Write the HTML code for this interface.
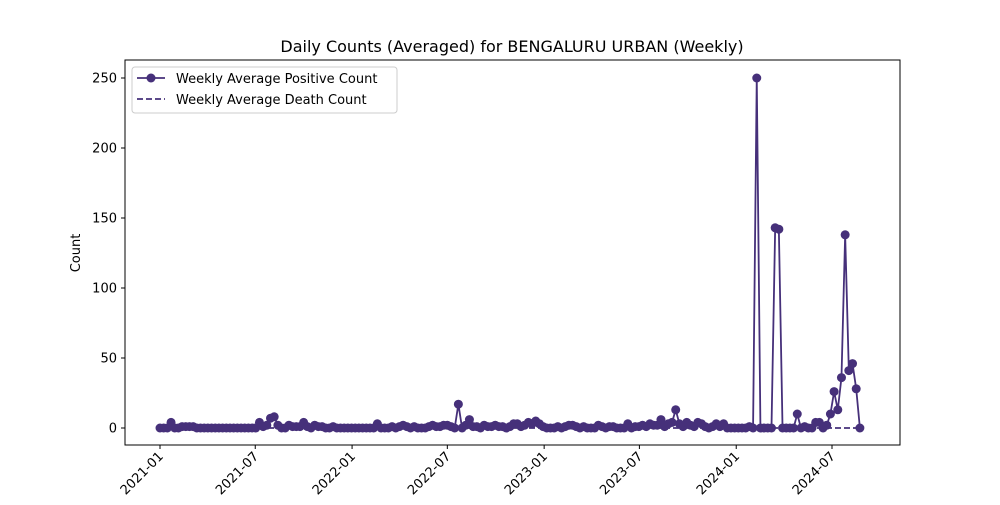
<!DOCTYPE html>
<html><head><meta charset="utf-8"><style>
body{margin:0;background:#fff;font-family:"Liberation Sans","DejaVu Sans",sans-serif;}
svg text{font-family:"DejaVu Sans","Liberation Sans",sans-serif;}
</style></head><body>
<svg id="chart" width="1000" height="500" xmlns="http://www.w3.org/2000/svg">
<rect width="1000" height="500" fill="#fff"/>
<text x="512" y="52" font-size="16" text-anchor="middle">Daily Counts (Averaged) for BENGALURU URBAN (Weekly)</text>
<text transform="translate(80,253) rotate(-90)" font-size="13" text-anchor="middle">Count</text>
<g id="axes"></g>
<g id="series"></g>
<rect x="125" y="60" width="775" height="385" fill="none" stroke="#000" stroke-width="1"/>
<g>
<rect x="132" y="67" width="265" height="46" rx="3" fill="#fff" stroke="#ccc"/>
<g>
<line x1="137" y1="78" x2="165" y2="78" stroke="#46307a" stroke-width="1.8"/>
<circle cx="151" cy="78" r="4.5" fill="#46307a"/>
<text x="176" y="83" font-size="13">Weekly Average Positive Count</text></g>
<g>
<line x1="137" y1="99" x2="165" y2="99" stroke="#46307a" stroke-width="1.8" stroke-dasharray="6,3"/>
<text x="176" y="104" font-size="13">Weekly Average Death Count</text></g>
</g>
</svg>
<script>
const startDate = "2021-01-01";
const positive = [0,0,0,4,0,0,1,1,1,1,0,0,0,0,0,0,0,0,0,0,0,0,0,0,0,0,0,4,1,2,7,8,2,0,0,2,1,1,1,4,1,0,2,1,1,0,0,1,0,0,0,0,0,0,0,0,0,0,0,3,0,0,0,1,0,1,2,1,0,1,0,0,0,1,2,1,1,2,2,1,0,17,0,2,6,1,1,0,2,1,1,2,1,1,0,1,3,3,1,2,4,3,5,3,1,0,0,0,1,0,1,2,2,1,0,1,0,0,0,2,1,0,1,1,0,0,0,3,0,1,1,2,1,3,2,2,6,1,3,4,13,3,1,4,2,1,4,3,1,0,1,3,1,3,0,0,0,0,0,0,1,0,250,0,0,0,0,143,142,0,0,0,0,10,0,1,0,0,4,4,0,2,10,26,13,36,138,41,46,28,0];
const deaths = positive.map(()=>0);
const yTicks = [0,50,100,150,200,250];
const xTickLabels = ["2021-01","2021-07","2022-01","2022-07","2023-01","2023-07","2024-01","2024-07"];
const NS="http://www.w3.org/2000/svg";
const t0=Date.parse("2021-01-01"), t1=Date.parse("2024-07-01");
function xScale(ms){return 160+(ms-t0)/(t1-t0)*672;}
function yScale(v){return 428-v*1.4;}
function mk(tag,attrs,parent){const e=document.createElementNS(NS,tag);for(const k in attrs)e.setAttribute(k,attrs[k]);parent.appendChild(e);return e;}
const axes=document.getElementById('axes'), series=document.getElementById('series');
yTicks.forEach(v=>{
  const g=mk('g',{},axes);
  
  
  mk('line',{x1:121,x2:125,y1:yScale(v),y2:yScale(v),stroke:'#000'},g);
  const t=mk('text',{x:117,y:yScale(v)+4.5,'font-size':13,'text-anchor':'end'},g);t.textContent=v;
});
xTickLabels.forEach(l=>{
  const x=xScale(Date.parse(l+"-01"));
  const g=mk('g',{},axes);
  
  
  mk('line',{x1:x,x2:x,y1:445,y2:449,stroke:'#000'},g);
  const t=mk('text',{transform:`translate(${x+4},${457}) rotate(-45)`,'font-size':13,'text-anchor':'end'},g);t.textContent=l;
});
const d0=Date.parse(startDate);
const xs=positive.map((_,i)=>xScale(d0+i*7*86400000));
const dp=mk('polyline',{points:deaths.map((v,i)=>xs[i]+','+yScale(v)).join(' '),fill:'none',stroke:'#46307a','stroke-width':1.8,'stroke-dasharray':'6,3'},series);


const pl=mk('polyline',{points:positive.map((v,i)=>xs[i]+','+yScale(v)).join(' '),fill:'none',stroke:'#46307a','stroke-width':1.8},series);


positive.forEach((v,i)=>{
  const c=mk('circle',{cx:xs[i],cy:yScale(v),r:4.5,fill:'#46307a'},series);
  
  
});
</script>
</body></html>
